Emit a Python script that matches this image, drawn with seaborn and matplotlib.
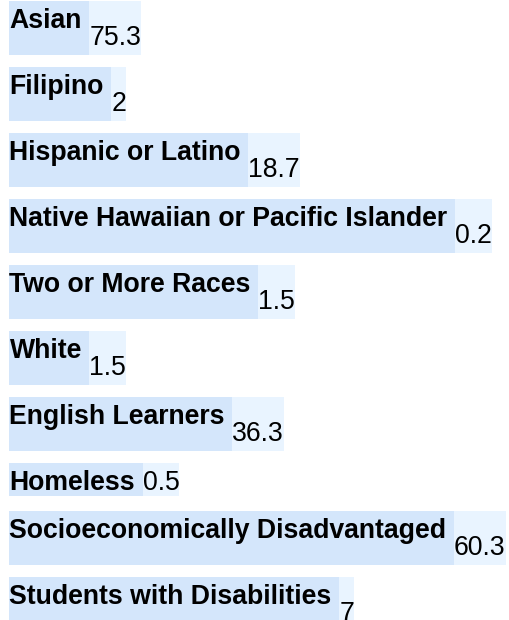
import matplotlib
matplotlib.use("Agg")
import matplotlib.pyplot as plt
from matplotlib.patches import Rectangle
import seaborn as sns

# data
groups = ["Asian", "Filipino", "Hispanic or Latino",
          "Native Hawaiian or Pacific Islander", "Two or More Races", "White",
          "English Learners", "Homeless", "Socioeconomically Disadvantaged",
          "Students with Disabilities"]
percents = [75.3, 2, 18.7, 0.2, 1.5, 1.5, 36.3, 0.5, 60.3, 7]
compact_rows = ["Homeless"]   # value sits on the label baseline here

sns.set_style("white")
plt.rcParams['font.family'] = ['Liberation Sans', 'DejaVu Sans']

W, H = 510, 620
fig = plt.figure(figsize=(W / 100, H / 100), dpi=100)
ax = fig.add_axes([0, 0, 1, 1])
ax.set_xlim(0, W)
ax.set_ylim(H, 0)
ax.axis('off')

fs_px = 26.6
fs = fs_px * 72 / 100
lab_col = "#d4e6fb"
val_col = "#e9f4ff"
renderer = fig.canvas.get_renderer()

x0 = 9.5
top = 1
for name, v in zip(groups, percents):
    compact = name in compact_rows
    h = 33 if compact else 54
    base_lab = top + 27
    base_val = base_lab if compact else top + 44

    t = ax.text(x0, base_lab, name, fontsize=fs, fontweight='bold',
                va='baseline', ha='left', color='black', zorder=3)
    w_lab = t.get_window_extent(renderer).width + 0.278 * fs_px
    ax.add_patch(Rectangle((x0, top), w_lab, h, color=lab_col, lw=0, zorder=1))

    x1 = x0 + w_lab
    tv = ax.text(x1, base_val, f"{v:g}", fontsize=fs, va='baseline',
                 ha='left', color='black', zorder=3)
    w_val = tv.get_window_extent(renderer).width
    ax.add_patch(Rectangle((x1, top), w_val, h, color=val_col, lw=0, zorder=1))

    top += h + (15 if compact else 12)

fig.savefig("out.png", dpi=100)
